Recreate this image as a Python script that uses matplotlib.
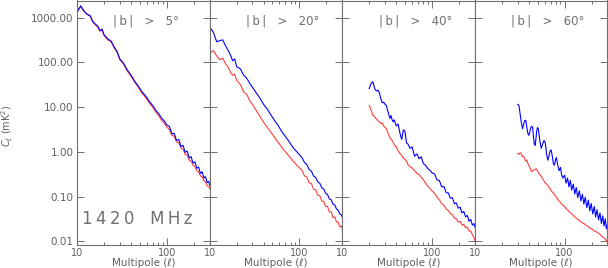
import numpy as np
import matplotlib
matplotlib.use('Agg')
import matplotlib.pyplot as plt
from matplotlib.ticker import FixedLocator, NullFormatter, FuncFormatter

# multipole grids
ell_a = [10, 11, 12, 13, 14, 15, 16, 17, 18, 19, 20, 22, 24, 26, 28, 30, 33, 36, 40, 44,
         48, 53, 58, 64, 70, 76, 82, 88, 94, 100, 107, 114, 121, 128, 136, 144, 152, 160,
         169, 178, 187, 196, 206, 216, 226, 237, 248, 259, 270, 282, 294, 300]
ell_b = [20, 21, 22, 23, 24, 25, 26, 27, 28, 29, 30, 31, 32, 33, 34, 35, 36, 37, 38, 40,
         42, 44, 46, 48, 50, 52, 54, 57, 60, 64, 68, 72, 76, 80, 85, 90, 95, 100, 107, 114,
         121, 128, 136, 144, 152, 160, 169, 178, 187, 196, 206, 216, 226, 237, 248, 259,
         270, 282, 294, 300]

# |b| > 5 deg
blue_5 = [1330, 1850, 1400, 1200, 1120, 830, 720, 650, 520, 560, 420, 340, 300, 220, 175,
          120, 96, 70, 52, 38, 30, 22, 18, 13.5, 10.8, 8.4, 7.0, 5.6, 4.9, 4.0, 3.7, 2.55,
          2.6, 1.82, 1.9, 1.32, 1.4, 0.98, 1.04, 0.73, 0.78, 0.56, 0.6, 0.43, 0.46,
          0.33, 0.36, 0.26, 0.28, 0.205, 0.22, 0.18]
red_5 = [1330, 1800, 1380, 1180, 1080, 800, 700, 620, 500, 530, 400, 320, 290, 210, 168,
         115, 92, 66, 49, 36, 28, 20.5, 16.5, 12.3, 9.8, 7.6, 6.3, 5.0, 4.4, 3.6, 3.15, 2.35,
         2.25, 1.7, 1.58, 1.22, 1.14, 0.88, 0.84, 0.65, 0.62, 0.5, 0.47, 0.38, 0.36, 0.29,
         0.28, 0.225, 0.215, 0.175, 0.168, 0.15]

# |b| > 20 deg
blue_20 = [620, 480, 290, 310, 320, 240, 190, 150, 110, 120, 80, 72, 52, 44, 34, 28, 21,
           16.5, 11.5, 9.0, 6.8, 5.0, 3.9, 2.8, 2.2, 1.75, 1.4, 1.15, 1.0, 0.87, 0.74, 0.58,
           0.52, 0.41, 0.37, 0.29, 0.268, 0.214, 0.197, 0.157, 0.147, 0.119, 0.111, 0.089,
           0.085, 0.068, 0.065, 0.053, 0.05, 0.041, 0.039, 0.035]
red_20 = [155, 185, 140, 115, 125, 95, 80, 62, 52, 55, 40, 32, 22, 19, 14, 11.5, 8.5, 6.4,
          4.6, 3.5, 2.8, 2.1, 1.65, 1.25, 1.0, 0.82, 0.68, 0.58, 0.5, 0.44, 0.39, 0.29,
          0.275, 0.205, 0.197, 0.146, 0.142, 0.108, 0.105, 0.079, 0.078, 0.06, 0.06, 0.045,
          0.046, 0.034, 0.035, 0.027, 0.027, 0.021, 0.022, 0.019]

# |b| > 40 deg
blue_40 = [26, 34, 37, 26, 23, 24, 21, 15, 12.5, 13, 11.5, 11, 8.5, 7, 5.6, 6.5, 5.2, 4.7,
           5.2, 3.8, 4.2, 2.6, 1.9, 3.1, 2.9, 1.6, 1.5, 1.2, 1.3, 0.8, 0.9, 0.7, 0.78, 0.55,
           0.5, 0.42, 0.39, 0.34, 0.32, 0.235, 0.23, 0.165, 0.168, 0.122, 0.121, 0.092,
           0.094, 0.069, 0.072, 0.055, 0.058, 0.043, 0.047, 0.035, 0.038, 0.028, 0.031,
           0.023, 0.025, 0.021]
red_40 = [11, 8.5, 6.6, 6.0, 5.5, 5.0, 4.7, 4.3, 4.4, 3.8, 3.5, 3.3, 2.8, 2.4, 2.1, 1.9,
          1.8, 1.65, 1.45, 1.3, 1.05, 0.92, 0.85, 0.72, 0.68, 0.62, 0.52, 0.47, 0.44, 0.38,
          0.33, 0.31, 0.27, 0.24, 0.2, 0.17, 0.15, 0.135, 0.118, 0.098, 0.084, 0.07, 0.064,
          0.053, 0.049, 0.042, 0.039, 0.033, 0.032, 0.027, 0.028, 0.023, 0.024, 0.02,
          0.021, 0.017, 0.017, 0.014, 0.012, 0.0105]

# |b| > 60 deg
ell_60b = [30, 31, 32, 33, 34, 35, 36, 37, 38, 39, 40, 41, 42, 43, 44, 45, 46, 47, 48, 49,
           50, 51, 53, 55, 57, 59, 61, 63, 65, 67, 69, 71, 73, 75, 77, 79, 81, 84, 87, 90,
           93, 96, 100, 104, 108, 112, 116, 120, 125, 130, 135, 140, 146, 152, 158, 164,
           170, 177, 184, 191, 198, 206, 214, 222, 230, 239, 248, 257, 266, 275, 284, 292, 300]
blue_60 = [11.6, 11, 7, 4.5, 3.3, 4.2, 5.0, 5.1, 3.5, 2.6, 2.35, 2.8, 3.5, 3.7, 3.6, 2.2,
           1.5, 1.4, 2.0, 3.0, 3.5, 3.3, 1.8, 1.2, 1.5, 1.8, 1.6, 0.9, 0.65, 0.8, 1.05, 1.1,
           0.8, 0.55, 0.5, 0.65, 0.75, 0.5, 0.38, 0.45, 0.3, 0.26, 0.3, 0.2, 0.26, 0.165,
           0.23, 0.14, 0.19, 0.115, 0.16, 0.095, 0.135, 0.08, 0.113, 0.068, 0.097, 0.057,
           0.083, 0.048, 0.07, 0.041, 0.06, 0.035, 0.051, 0.03, 0.043, 0.025, 0.037,
           0.022, 0.032, 0.019, 0.024]
ell_60r = [30, 31, 32, 33, 34, 35, 36, 37, 38, 39, 40, 41, 42, 43, 44, 46, 48, 50, 52, 54,
           56, 58, 60, 63, 66, 69, 72, 75, 79, 83, 87, 91, 95, 100, 106, 112, 118, 124, 132,
           140, 148, 156, 164, 173, 183, 193, 204, 215, 227, 240, 253, 266, 280, 290, 300]
red_60 = [0.92, 0.88, 0.95, 0.9, 0.78, 0.8, 0.7, 0.62, 0.66, 0.55, 0.5, 0.45, 0.4, 0.36,
          0.38, 0.4, 0.42, 0.38, 0.32, 0.3, 0.26, 0.24, 0.21, 0.19, 0.17, 0.15, 0.13, 0.12,
          0.105, 0.09, 0.08, 0.072, 0.065, 0.06, 0.052, 0.047, 0.042, 0.039, 0.034, 0.031,
          0.029, 0.026, 0.025, 0.023, 0.0215, 0.0195, 0.0185, 0.017, 0.0162, 0.015,
          0.0138, 0.0125, 0.0116, 0.0106, 0.0098]

panels = [
    (ell_a, blue_5, ell_a, red_5, '|\u2009b\u2009|   >   5°'),
    (ell_a, blue_20, ell_a, red_20, '|\u2009b\u2009|   >   20°'),
    (ell_b, blue_40, ell_b, red_40, '|\u2009b\u2009|   >   40°'),
    (ell_60b, blue_60, ell_60r, red_60, '|\u2009b\u2009|   >   60°'),
]

grey = '#606060'
plt.rcParams['font.family'] = 'DejaVu Sans'

fig = plt.figure(figsize=(6.08, 2.68), dpi=100)
left0 = 77 / 608
w = 132.6 / 608
bottom = 23.3 / 268
h = 1 - bottom - 0.5 / 268

for i, (lb, bvals, lr, rvals, title) in enumerate(panels):
    ax = fig.add_axes([left0 + i * w, bottom, w, h])
    ax.plot(lr, rvals, color='#ff3c3c', lw=0.8)
    ax.plot(lb, bvals, color='#0000ff', lw=0.8)
    ax.set_xscale('log')
    ax.set_yscale('log')
    ax.set_xlim(10, 300)
    ax.set_ylim(10 ** -2.076, 10 ** 3.386)
    for s in ax.spines.values():
        s.set_color('#707070')
        s.set_linewidth(0.8)
    ax.xaxis.set_major_locator(FixedLocator([10, 100]))
    ax.xaxis.set_minor_locator(FixedLocator([20, 30, 40, 50, 60, 70, 80, 90, 200, 300]))
    ax.xaxis.set_minor_formatter(NullFormatter())
    ax.xaxis.set_major_formatter(FuncFormatter(lambda v, p: '%d' % v))
    ax.yaxis.set_major_locator(FixedLocator([0.01, 0.1, 1, 10, 100, 1000]))
    ax.yaxis.set_minor_locator(FixedLocator([]))
    ax.tick_params(which='both', direction='in', top=True, right=True,
                   color='#707070', width=0.7, labelcolor=grey, labelsize=7.5)
    ax.tick_params(axis='x', labelsize=7)
    ax.tick_params(which='major', length=5, pad=2.5)
    ax.tick_params(which='minor', length=2.5)
    if i == 0:
        ax.yaxis.set_major_formatter(FuncFormatter(lambda v, p: '%.2f' % v))
        ax.text(0.035, 0.105, '1\u20094\u20092\u20090   M\u2009H\u2009z', transform=ax.transAxes,
                fontsize=12, color='#707070', va='center', ha='left')
    else:
        ax.yaxis.set_major_formatter(NullFormatter())
    ax.text(0.275, 0.915, title, transform=ax.transAxes, fontsize=8.5,
            color='#707070', va='center', ha='left')
    ax.set_xlabel('Multipole (ℓ)', fontsize=7.5, color=grey, labelpad=0)

fig.text(7 / 608, 1 - 126 / 268, r'$C_\ell$ (mK$^2$)', rotation=90, fontsize=7,
         color=grey, ha='center', va='center')

fig.savefig('out.png', dpi=100)
